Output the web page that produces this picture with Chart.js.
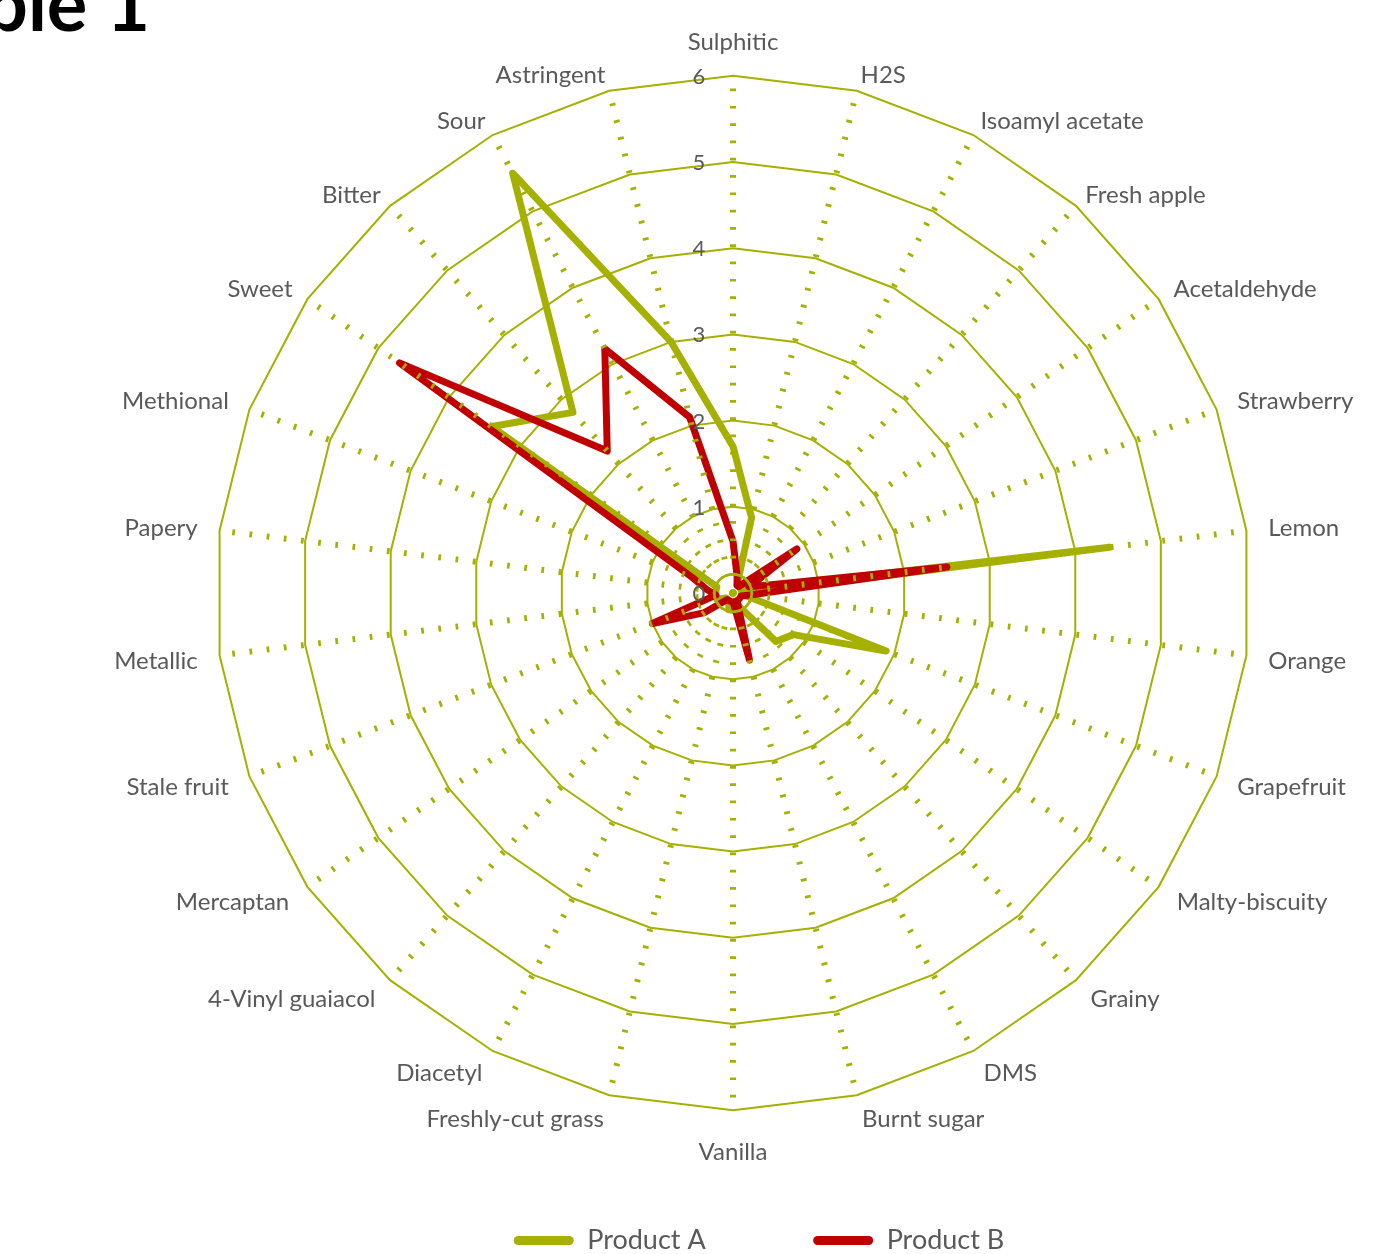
<!DOCTYPE html>
<html>
<head>
<meta charset="utf-8">
<script src="https://cdn.jsdelivr.net/npm/chart.js@4.4.1/dist/chart.umd.min.js"></script>
<style>
  html, body { margin: 0; padding: 0; background: #ffffff; overflow: hidden; }
  #wrap { position: relative; width: 1385px; height: 1254px; overflow: hidden; }
  #c { position: absolute; left: 0; top: 0; }
  #title { position: absolute; right: 1235px; top: -36px; white-space: nowrap;
           font-family: Lato, sans-serif; font-weight: bold; font-size: 76px; line-height: 76px; color: #000; }
</style>
</head>
<body>
<div id="wrap">
  <canvas id="c" width="1385" height="1254"></canvas>
  <div id="title">Table 1</div>
</div>
<script>
// ---- data ----
const CATEGORIES = ['Sulphitic', 'H2S', 'Isoamyl acetate', 'Fresh apple', 'Acetaldehyde', 'Strawberry',
  'Lemon', 'Orange', 'Grapefruit', 'Malty-biscuity', 'Grainy', 'DMS', 'Burnt sugar', 'Vanilla',
  'Freshly-cut grass', 'Diacetyl', '4-Vinyl guaiacol', 'Mercaptan', 'Stale fruit', 'Metallic',
  'Papery', 'Methional', 'Sweet', 'Bitter', 'Sour', 'Astringent'];
const PRODUCT_A = [1.7, 0.9, 0.1, 0.1, 0.1, 0.1, 4.4, 0.1, 1.9, 0.85, 0.75, 0.2, 0.1, 0.2,
  0.2, 0.1, 0.1, 0.1, 0.2, 0.2, 0.2, 0.2, 3.4, 2.8, 5.5, 3.0];
const PRODUCT_B = [0.6, 0.2, 0.1, 0.1, 0.9, 0.2, 2.5, 0.2, 0.1, 0.1, 0.1, 0.1, 0.8, 0.1,
  0.1, 0.1, 0.1, 0.4, 1.0, 0.2, 0.3, 0.5, 4.7, 2.2, 3.2, 2.1];
const SERIES_NAMES = ['Product A', 'Product B'];
const TICK_VALUES = [0, 1, 2, 3, 4, 5, 6];
const TICK_LABELS = ['0', '1', '2', '3', '4', '5', '6'];

// ---- styles ----
const GREEN = '#A5B000';
const RED = '#C00000';
const GRAY = '#595959';
const N = CATEGORIES.length;
const TOP_IDX = 0;
const BOTTOM_IDX = N / 2;

function labelCos(i) { return Math.cos(i * 2 * Math.PI / N); }

const pointLabelFont = (ctx) => {
  const i = ctx.index;
  let lh;
  if (i === TOP_IDX) lh = 1.4;
  else if (i === BOTTOM_IDX) lh = 0.733;
  else if (labelCos(i) > 0) lh = 0.01;
  else lh = 0.25;
  return { family: 'Lato', size: 24, lineHeight: lh };
};

const pointLabelPadding = (ctx) => {
  const i = ctx.index;
  if (i === TOP_IDX) return 17.2;
  if (i === BOTTOM_IDX) return 33.2;
  const c = labelCos(i);
  if (c >= 0.7) return 22 - 6 / c;
  if (c >= 0.5) return 18;
  return 22;
};

const tickLabelPlugin = {
  id: 'tickLabels',
  afterDraw(chart) {
    const s = chart.scales.r;
    const ctx = chart.ctx;
    ctx.save();
    ctx.font = '22px Lato';
    ctx.fillStyle = GRAY;
    ctx.textAlign = 'center';
    ctx.textBaseline = 'middle';
    TICK_VALUES.forEach((v, i) => {
      const y = s.yCenter - s.getDistanceFromCenterForValue(v);
      ctx.fillText(TICK_LABELS[i], s.xCenter - 34, y + 1);
    });
    ctx.restore();
  }
};

const LEGEND_SHIFT = 26;
const legendShiftPlugin = {
  id: 'legendShift',
  afterLayout(chart) {
    if (chart.legend) {
      chart.legend.left += LEGEND_SHIFT;
      chart.legend.right += LEGEND_SHIFT;
    }
  }
};

const LEGEND_GAP = '      ';

new Chart(document.getElementById('c'), {
  type: 'radar',
  data: {
    labels: CATEGORIES,
    datasets: [
      { label: SERIES_NAMES[0], data: PRODUCT_A, rAxisID: 'r', borderColor: GREEN, backgroundColor: GREEN,
        borderWidth: 7, fill: false, pointRadius: 0, pointHoverRadius: 0, borderJoinStyle: 'round', order: 2 },
      { label: SERIES_NAMES[1], data: PRODUCT_B, rAxisID: 'r', borderColor: RED, backgroundColor: RED,
        borderWidth: 7, fill: false, pointRadius: 0, pointHoverRadius: 0, borderJoinStyle: 'round', order: 1 }
    ]
  },
  options: {
    responsive: false,
    animation: false,
    events: [],
    layout: { padding: { top: 25, left: 81, right: 0, bottom: -10 } },
    scales: {
      r: {
        type: 'radialLinear',
        min: 0, max: 6,
        ticks: { display: false, stepSize: 1 },
        grid: { display: false, z: 1 },
        angleLines: { display: true, color: GREEN, lineWidth: 6, borderDash: [2.7, 14.6] },
        pointLabels: { display: true, color: GRAY, padding: pointLabelPadding, font: pointLabelFont }
      },
      r2: {
        type: 'radialLinear',
        min: 0, max: 6,
        ticks: { display: false, stepSize: 1 },
        grid: { display: true, color: GREEN, lineWidth: 2, circular: false },
        angleLines: { display: false },
        pointLabels: { display: true, color: 'rgba(0,0,0,0)', padding: pointLabelPadding, font: pointLabelFont }
      }
    },
    plugins: {
      tooltip: { enabled: false },
      title: { display: false },
      legend: {
        position: 'bottom',
        labels: {
          boxWidth: 60, boxHeight: 9, padding: 66, useBorderRadius: true, borderRadius: 4.5,
          color: GRAY, font: { family: 'Lato', size: 27 },
          generateLabels: (chart) => chart.data.datasets.map((ds, i) => ({
            text: ds.label + (i === 0 ? LEGEND_GAP : ''),
            fillStyle: ds.borderColor, strokeStyle: ds.borderColor, lineWidth: 0,
            hidden: false, datasetIndex: i, borderRadius: 4.5, fontColor: GRAY
          }))
        }
      }
    }
  },
  plugins: [tickLabelPlugin, legendShiftPlugin]
});
</script>
</body>
</html>
